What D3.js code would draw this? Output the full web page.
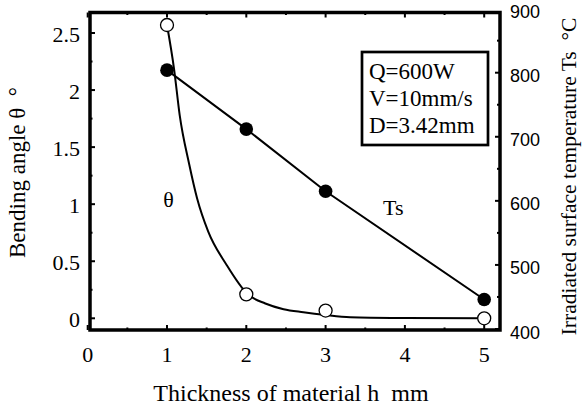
<!DOCTYPE html>
<html>
<head>
<meta charset="utf-8">
<script src="https://cdn.jsdelivr.net/npm/d3@7"></script>
<style>
  html, body { margin: 0; padding: 0; background: #fff; }
  svg { display: block; }
  text { white-space: pre; }
</style>
</head>
<body>
<svg id="chart" width="582" height="405"></svg>
<script>
// ---- data ----
const thickness = [1, 2, 3, 5];                 // h (mm)
const bendAngle = [2.57, 0.21, 0.068, 0.0];     // θ (deg), open circles
const surfTemp  = [804, 712, 615, 446];         // Ts (°C), filled circles
// fitted θ curve
const fitH     = [1.0, 1.09, 1.16, 1.28, 1.38, 1.52, 1.75, 2.02, 2.24, 2.47, 2.72, 3.0, 3.31, 4.0, 5.0];
const fitTheta = [2.57, 2.18, 1.78, 1.35, 1.05, 0.76, 0.47, 0.21, 0.13, 0.08, 0.053, 0.029, 0.01, 0.003, 0.0];
const xTickVals = [0, 1, 2, 3, 4, 5];
const yLeftTicks = [0, 0.5, 1, 1.5, 2, 2.5];
const yLeftLabels = ["0", "0.5", "1", "1.5", "2", "2.5"];
const yRightTicks = [400, 500, 600, 700, 800, 900];
const legendLines = ["Q=600W", "V=10mm/s", "D=3.42mm"];

// ---- layout ----
const svg = d3.select("#chart");
const frame = { left: 90, right: 500, top: 12.5, bottom: 330 };
const x  = d3.scaleLinear().domain([0, 5]).range([87.7, 484.2]);
const yL = d3.scaleLinear().domain([0, 2.5]).range([318.3, 33]);
const yR = d3.scaleLinear().domain([400, 800]).range([329, 72.7]);
const serif = "'Liberation Serif', 'Times New Roman', serif";
const sans  = "'Liberation Sans', Arial, sans-serif";

const g = svg.append("g");

// ticks (inward)
const major = 5, minor = 2.5;
const xMinor = d3.range(0.5, 5.01, 1);
xTickVals.forEach(v => {
  g.append("line").attr("x1", x(v)).attr("x2", x(v)).attr("y1", frame.bottom).attr("y2", frame.bottom - major)
    .attr("stroke", "#000").attr("stroke-width", 2);
  g.append("line").attr("x1", x(v)).attr("x2", x(v)).attr("y1", frame.top).attr("y2", frame.top + major)
    .attr("stroke", "#000").attr("stroke-width", 2);
});
xMinor.forEach(v => {
  g.append("line").attr("x1", x(v)).attr("x2", x(v)).attr("y1", frame.bottom).attr("y2", frame.bottom - minor)
    .attr("stroke", "#000").attr("stroke-width", 2);
  g.append("line").attr("x1", x(v)).attr("x2", x(v)).attr("y1", frame.top).attr("y2", frame.top + minor)
    .attr("stroke", "#000").attr("stroke-width", 2);
});
yLeftTicks.forEach(v => {
  g.append("line").attr("x1", frame.left).attr("x2", frame.left + major).attr("y1", yL(v)).attr("y2", yL(v))
    .attr("stroke", "#000").attr("stroke-width", 2);
});
d3.range(0.25, 2.6, 0.5).forEach(v => {
  g.append("line").attr("x1", frame.left).attr("x2", frame.left + minor).attr("y1", yL(v)).attr("y2", yL(v))
    .attr("stroke", "#000").attr("stroke-width", 2);
});
yRightTicks.filter(v => yR(v) > frame.top).forEach(v => {
  g.append("line").attr("x1", frame.right).attr("x2", frame.right - major).attr("y1", yR(v)).attr("y2", yR(v))
    .attr("stroke", "#000").attr("stroke-width", 2);
});
d3.range(450, 900, 100).forEach(v => {
  g.append("line").attr("x1", frame.right).attr("x2", frame.right - 3).attr("y1", yR(v)).attr("y2", yR(v))
    .attr("stroke", "#000").attr("stroke-width", 2);
});

// frame
g.append("rect").attr("x", frame.left).attr("y", frame.top)
  .attr("width", frame.right - frame.left).attr("height", frame.bottom - frame.top)
  .attr("fill", "none").attr("stroke", "#000").attr("stroke-width", 3.5);

// tick labels
xTickVals.forEach(v => {
  g.append("text").attr("x", x(v)).attr("y", 361.5).attr("text-anchor", "middle")
    .attr("font-family", serif).attr("font-size", 22).text(v);
});
yLeftTicks.forEach((v, i) => {
  g.append("text").attr("x", 80).attr("y", yL(v) + 8.5).attr("text-anchor", "end")
    .attr("font-family", serif).attr("font-size", 22).text(yLeftLabels[i]);
});
yRightTicks.forEach(v => {
  g.append("text").attr("x", 510).attr("y", yR(v) + 9.5).attr("text-anchor", "start")
    .attr("font-family", sans).attr("font-size", 18).text(v);
});

// axis titles
g.append("text").attr("x", 291).attr("y", 401).attr("text-anchor", "middle")
  .attr("font-family", serif).attr("font-size", 24).text("Thickness of material h  mm");
g.append("text").attr("transform", "translate(25,172.5) rotate(-90)").attr("text-anchor", "middle")
  .attr("font-family", serif).attr("font-size", 23).text("Bending angle θ  °");
g.append("text").attr("transform", "translate(576,176.5) rotate(-90)").attr("text-anchor", "middle")
  .attr("font-family", serif).attr("font-size", 21.5).text("Irradiated surface temperature Ts  °C");

// θ fitted curve
const fitPts = fitH.map((h, i) => [h, fitTheta[i]]);
g.append("path").datum(fitPts)
  .attr("d", d3.line().x(d => x(d[0])).y(d => yL(d[1])).curve(d3.curveMonotoneX))
  .attr("fill", "none").attr("stroke", "#000").attr("stroke-width", 2);

// Ts line
const tsPts = thickness.map((h, i) => [h, surfTemp[i]]);
g.append("path").datum(tsPts)
  .attr("d", d3.line().x(d => x(d[0])).y(d => yR(d[1])))
  .attr("fill", "none").attr("stroke", "#000").attr("stroke-width", 2);

// markers
g.selectAll("circle.ts").data(tsPts).enter().append("circle").attr("class", "ts")
  .attr("cx", d => x(d[0])).attr("cy", d => yR(d[1])).attr("r", 6.8).attr("fill", "#000");
g.selectAll("circle.th").data(thickness.map((h, i) => [h, bendAngle[i]])).enter().append("circle").attr("class", "th")
  .attr("cx", d => x(d[0])).attr("cy", d => yL(d[1])).attr("r", 6.5)
  .attr("fill", "#fff").attr("stroke", "#000").attr("stroke-width", 1.3);

// annotations
g.append("text").attr("x", 168.5).attr("y", 207).attr("text-anchor", "middle")
  .attr("font-family", serif).attr("font-size", 22).text("θ");
g.append("text").attr("x", 383).attr("y", 215).attr("text-anchor", "start")
  .attr("font-family", serif).attr("font-size", 22).text("Ts");

// legend box
g.append("rect").attr("x", 362).attr("y", 52).attr("width", 126).attr("height", 93)
  .attr("fill", "#fff").attr("stroke", "#000").attr("stroke-width", 2.7);
legendLines.forEach((t, i) => {
  g.append("text").attr("x", 369).attr("y", 79.3 + i * 26.7)
    .attr("font-family", serif).attr("font-size", 23).text(t);
});
</script>
</body>
</html>
